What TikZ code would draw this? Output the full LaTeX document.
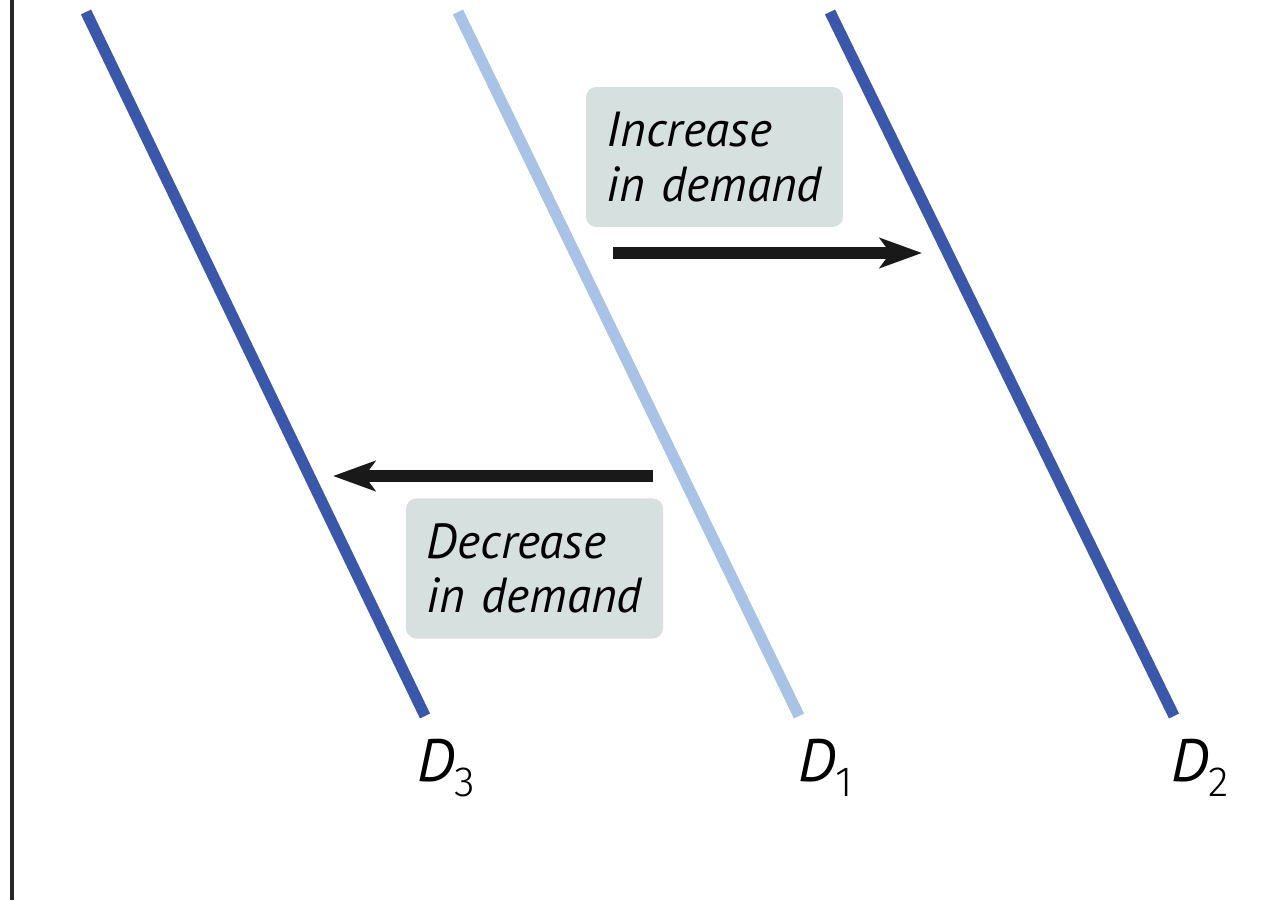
\documentclass[tikz,border=0pt]{standalone}
\usepackage{fontspec}
\setmainfont{PT Sans}
\newfontfamily\subdigits{Fira Sans Light}
\usetikzlibrary{arrows.meta}

\definecolor{darkdemand}{HTML}{3B57AA}
\definecolor{lightdemand}{HTML}{A9C3E6}
\definecolor{notefill}{HTML}{D6E1DF}

\newcommand{\curvesub}[1]{\raisebox{-0.5ex}{\subdigits\fontsize{12}{13}\selectfont #1}}

\begin{document}
\begin{tikzpicture}[
    x=0.01cm, y=-0.01cm, % one unit = one pixel of the reference
    curve/.style={line width=3.2pt},
    shift arrow/.style={line width=3.3pt, black!90, -{Stealth[length=12pt, width=8.5pt, inset=3pt]}},
    note/.style={fill=notefill, rounded corners=3pt, minimum width=2.57cm, minimum height=1.40cm,
                 text width=2.15cm, align=left, inner sep=0pt, font=\itshape\fontsize{14}{15.4}\selectfont},
    curvelabel/.style={font=\fontsize{17}{19}\selectfont}
]
\useasboundingbox (0,0) rectangle (1268,900);

% Vertical axis
\draw[line width=0.9pt, black!85] (12,0) -- (12,900);

% Demand curves
\coordinate (d3top) at (86,12);   \coordinate (d3bot) at (425,716);
\coordinate (d1top) at (458,12);  \coordinate (d1bot) at (799,716);
\coordinate (d2top) at (830,12);  \coordinate (d2bot) at (1174,716);
\draw[curve, darkdemand] (d3top) -- (d3bot);
\draw[curve, lightdemand] (d1top) -- (d1bot);
\draw[curve, darkdemand] (d2top) -- (d2bot);

% Curve labels
\node[curvelabel] (lD3) at (446,768) {\textit{D}\curvesub{3}};
\node[curvelabel] (lD1) at (826,768) {\textit{D}\curvesub{1}};
\node[curvelabel] (lD2) at (1200,768) {\textit{D}\curvesub{2}};

% Notes
\node[note] (inc) at (714.5,157) {Increase\\in demand};
\node[note] (dec) at (534.5,568.5) {Decrease\\in demand};

% Shift arrows
\coordinate (incstart) at (613,253); \coordinate (incend) at (922,253);
\coordinate (decstart) at (653,476); \coordinate (decend) at (333,476);
\draw[shift arrow] (incstart) -- (incend);
\draw[shift arrow] (decstart) -- (decend);

\end{tikzpicture}
\end{document}
